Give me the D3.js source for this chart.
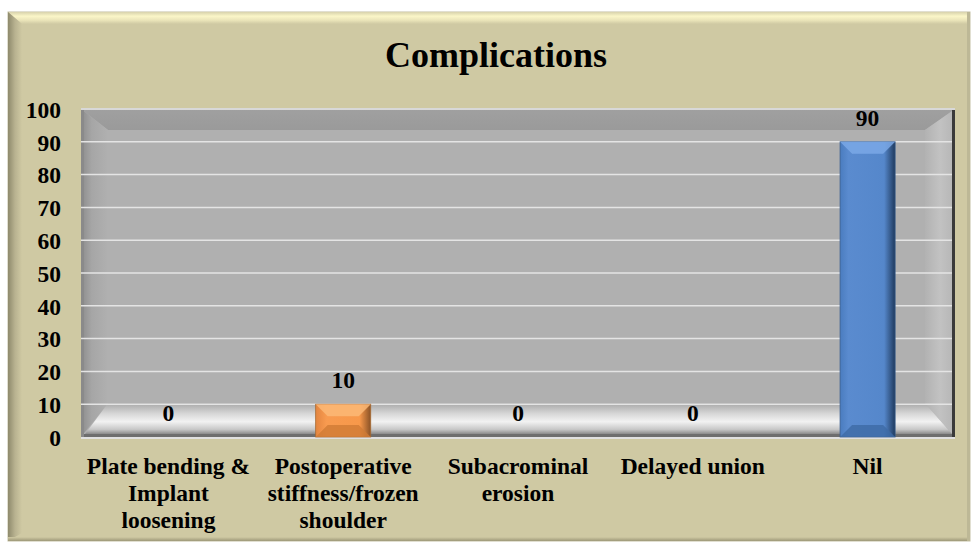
<!DOCTYPE html>
<html>
<head>
<meta charset="utf-8">
<script src="https://cdn.jsdelivr.net/npm/d3@7"></script>
<style>
  body { margin: 0; background: #fff; }
  svg text { font-family: "Liberation Serif", Tinos, "Times New Roman", Times, "DejaVu Serif", "Noto Serif", FreeSerif, serif; font-weight: bold; fill: #000; }
</style>
</head>
<body>
<div id="chart"></div>
<script>
// data
var categories = [
  ["Plate bending &", "Implant", "loosening"],
  ["Postoperative", "stiffness/frozen", "shoulder"],
  ["Subacrominal", "erosion"],
  ["Delayed union"],
  ["Nil"]
];
var values = [0, 10, 0, 0, 90];
var barColors = ["orange", "orange", "orange", "orange", "blue"];
var yTicks = [0, 10, 20, 30, 40, 50, 60, 70, 80, 90, 100];

var width = 971, height = 542;
var plot = { left: 81, top: 109, right: 955, bottom: 437 };
var fontSize = "23.5px";

var svg = d3.select("#chart").append("svg")
    .attr("width", width)
    .attr("height", height);

var defs = svg.append("defs");

function gradient(id, vertical, stops) {
  var g = defs.append("linearGradient").attr("id", id)
      .attr("x1", "0%").attr("y1", "0%")
      .attr("x2", vertical ? "0%" : "100%").attr("y2", vertical ? "100%" : "0%");
  g.selectAll("stop").data(stops).enter().append("stop")
      .attr("offset", function(d) { return d[0]; })
      .attr("stop-color", function(d) { return d[1]; });
}

gradient("frameTop", true, [[0, "#d8d2ac"], [0.35, "#fbf6c8"], [0.7, "#e9e3b8"], [1, "#cfc9a3"]]);
gradient("frameLeft", false, [[0, "#8e8a6c"], [0.5, "#b8b290"], [1, "#cfc9a3"]]);
gradient("frameBottom", true, [[0, "#cfc9a3"], [1, "#9d9878"]]);
gradient("wallTop", true, [[0, "#a0a0a0"], [1, "#9a9a9a"]]);
gradient("wallLeft", false, [[0, "#8c8c8c"], [0.4, "#a6a6a6"], [1, "#b0b0b0"]]);
gradient("wallRight", false, [[0, "#b2b2b2"], [0.5, "#c2c2c2"], [1, "#b5b5b5"]]);
gradient("floor", true, [[0, "#a8a8a8"], [0.35, "#d8d8d8"], [0.6, "#f2f2f2"], [0.85, "#c8c8c8"], [1, "#8a8a8a"]]);
gradient("orangeFace", false, [[0, "#e38540"], [0.2, "#f89b50"], [0.8, "#f7984a"], [1, "#8a5226"]]);
gradient("blueFace", false, [[0, "#4a7cbf"], [0.15, "#5a8bcf"], [0.8, "#5587cb"], [1, "#1f3a5e"]]);

// outer frame
var frame = { x: 8, y: 12, w: 962, h: 529 };
svg.append("rect")
    .attr("x", frame.x).attr("y", frame.y)
    .attr("width", frame.w).attr("height", frame.h)
    .attr("fill", "#cfc9a3")
    .attr("stroke", "#c4c0a4").attr("stroke-width", 1);
svg.append("path")
    .attr("d", "M" + frame.x + "," + frame.y + "H" + (frame.x + frame.w) + "v12H" + (frame.x + 14) + "Z")
    .attr("fill", "url(#frameTop)");
svg.append("path")
    .attr("d", "M" + frame.x + "," + frame.y + "l14,12V" + (frame.y + frame.h - 8) + "l-14,8Z")
    .attr("fill", "url(#frameLeft)");
svg.append("rect")
    .attr("x", frame.x).attr("y", frame.y + frame.h - 4)
    .attr("width", frame.w).attr("height", 4)
    .attr("fill", "url(#frameBottom)");
svg.append("rect")
    .attr("x", frame.x + frame.w - 3).attr("y", frame.y)
    .attr("width", 3).attr("height", frame.h)
    .attr("fill", "#bdb896");

// title
svg.append("text")
    .attr("x", 496).attr("y", 67)
    .attr("text-anchor", "middle")
    .style("font-size", "36px")
    .text("Complications");

// scales
var x = d3.scaleBand()
    .domain(d3.range(categories.length))
    .range([plot.left, plot.right])
    .padding(0);

var y = d3.scaleLinear()
    .domain([0, 100])
    .range([plot.bottom, plot.top]);

var barW = x.bandwidth() * 0.315;

// 3D walls
var depth = 27;
var floorTop = y(10) - 1;
svg.append("rect")
    .attr("x", plot.left).attr("y", plot.top)
    .attr("width", plot.right - plot.left).attr("height", plot.bottom - plot.top)
    .attr("fill", "#b0b0b0");
svg.append("path")
    .attr("d", "M" + plot.left + "," + plot.top + "H" + plot.right + "l-" + (depth + 3) + "," + 21 + "H" + (plot.left + depth) + "Z")
    .attr("fill", "url(#wallTop)");
svg.append("path")
    .attr("d", "M" + plot.left + "," + plot.top + "l" + depth + ",21V" + floorTop + "l-" + depth + "," + (plot.bottom - floorTop) + "Z")
    .attr("fill", "url(#wallLeft)");
svg.append("path")
    .attr("d", "M" + plot.right + "," + plot.top + "l-" + (depth + 3) + ",21V" + floorTop + "l" + (depth + 3) + "," + (plot.bottom - floorTop) + "Z")
    .attr("fill", "url(#wallRight)");
svg.append("path")
    .attr("d", "M" + (plot.left + 4) + "," + (plot.bottom - 3) + "L" + (plot.left + depth) + "," + floorTop +
               "H" + (plot.right - depth - 3) + "L" + (plot.right - 3) + "," + (plot.bottom - 3) + "Z")
    .attr("fill", "url(#floor)");
// edges
svg.append("rect")
    .attr("x", plot.left).attr("y", plot.bottom - 3)
    .attr("width", plot.right - plot.left).attr("height", 3)
    .attr("fill", "#6e6e6e");
svg.append("rect")
    .attr("x", plot.left).attr("y", plot.top)
    .attr("width", 3).attr("height", plot.bottom - plot.top)
    .attr("fill", "#8a8a8a");
svg.append("rect")
    .attr("x", plot.right - 3).attr("y", plot.top)
    .attr("width", 3).attr("height", plot.bottom - plot.top)
    .attr("fill", "#3a3a3a");
svg.append("line")
    .attr("x1", plot.left).attr("x2", plot.right)
    .attr("y1", plot.top).attr("y2", plot.top)
    .attr("stroke", "#d8d8d8").attr("stroke-width", 2);
svg.append("line")
    .attr("x1", plot.left).attr("x2", plot.right)
    .attr("y1", plot.bottom + 1).attr("y2", plot.bottom + 1)
    .attr("stroke", "#e0e0e0").attr("stroke-width", 2);

// gridlines
svg.append("g").selectAll("line")
    .data(yTicks.filter(function(d) { return d > 0 && d < 100; }))
    .enter().append("line")
    .attr("x1", plot.left).attr("x2", plot.right - 3)
    .attr("y1", function(d) { return y(d); })
    .attr("y2", function(d) { return y(d); })
    .attr("stroke", "#e4e4e4").attr("stroke-width", 1.5);

// y axis
var yAxis = d3.axisLeft(y).tickValues(yTicks).tickSize(0).tickPadding(0);
var yG = svg.append("g")
    .attr("transform", "translate(61,0)")
    .call(yAxis);
yG.attr("font-family", null).attr("font-size", null);
yG.select(".domain").remove();
yG.selectAll("text")
    .style("font-size", fontSize)
    .attr("dy", "0.35em");

// bars
var bars = svg.append("g").selectAll("g.bar")
    .data(values.map(function(v, i) { return { v: v, i: i }; }).filter(function(d) { return d.v > 0; }))
    .enter().append("g").attr("class", "bar");

bars.append("rect")
    .attr("x", function(d) { return x(d.i) + x.bandwidth() / 2 - barW / 2; })
    .attr("y", function(d) { return y(d.v); })
    .attr("width", barW)
    .attr("height", function(d) { return y(0) - y(d.v); })
    .attr("fill", function(d) { return barColors[d.i] === "blue" ? "url(#blueFace)" : "url(#orangeFace)"; })
    .attr("stroke", function(d) { return barColors[d.i] === "blue" ? "#3a5f8f" : "#a86a32"; })
    .attr("stroke-width", 0.8);

// top bevel
bars.append("path")
    .attr("d", function(d) {
      var x0 = x(d.i) + x.bandwidth() / 2 - barW / 2, y0 = y(d.v), b = Math.min(12, (y(0) - y(d.v)) / 2);
      return "M" + x0 + "," + y0 + "h" + barW + "l-" + b + "," + b + "h-" + (barW - 2 * b) + "Z";
    })
    .attr("fill", function(d) { return barColors[d.i] === "blue" ? "#7aa8e6" : "#fbb877"; })
    .attr("opacity", 0.85);
// bottom bevel
bars.append("path")
    .attr("d", function(d) {
      var x0 = x(d.i) + x.bandwidth() / 2 - barW / 2, y1 = y(0), b = Math.min(12, (y(0) - y(d.v)) / 2);
      return "M" + x0 + "," + y1 + "h" + barW + "l-" + b + ",-" + b + "h-" + (barW - 2 * b) + "Z";
    })
    .attr("fill", function(d) { return barColors[d.i] === "blue" ? "#3d6aa5" : "#d07a34"; })
    .attr("opacity", 0.8);

// value labels
svg.append("g").selectAll("text")
    .data(values)
    .enter().append("text")
    .attr("x", function(d, i) { return x(i) + x.bandwidth() / 2; })
    .attr("y", function(d) { return y(d) - 24; })
    .attr("dy", "0.35em")
    .attr("text-anchor", "middle")
    .style("font-size", fontSize)
    .text(function(d) { return d; });

// category labels
svg.append("g").selectAll("text")
    .data(categories)
    .enter().append("text")
    .attr("x", function(d, i) { return x(i) + x.bandwidth() / 2; })
    .attr("y", 474)
    .attr("text-anchor", "middle")
    .style("font-size", fontSize)
    .each(function(lines) {
      var t = d3.select(this), cx = t.attr("x");
      lines.forEach(function(l, k) {
        t.append("tspan").attr("x", cx).attr("dy", k === 0 ? 0 : 27).text(l);
      });
    });
</script>
</body>
</html>
